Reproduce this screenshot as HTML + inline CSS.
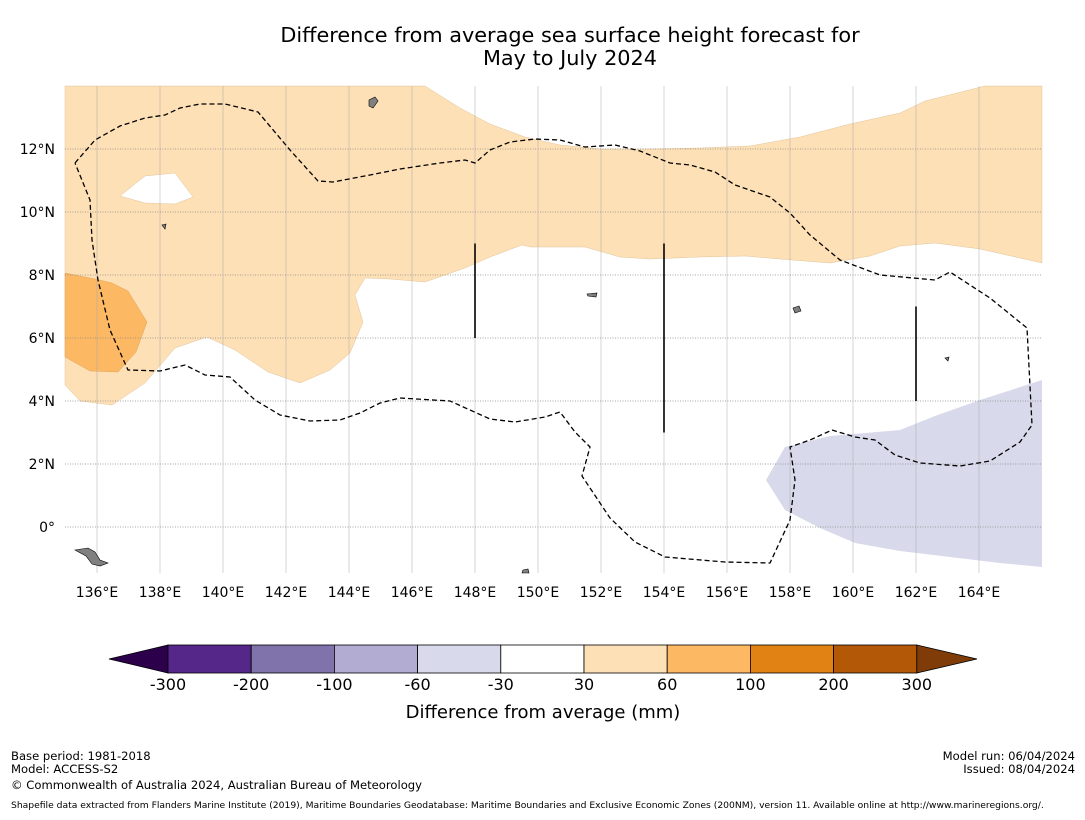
<!DOCTYPE html>
<html><head><meta charset="utf-8"><style>
body{margin:0;background:#fff;width:1085px;height:816px;overflow:hidden;font-family:"DejaVu Sans","Liberation Sans",sans-serif}
svg text{font-family:"DejaVu Sans","Liberation Sans",sans-serif}
</style></head><body>
<svg id="chart" width="1085" height="816" xmlns="http://www.w3.org/2000/svg">
<text x="570" y="42" font-size="20.8" text-anchor="middle">Difference from average sea surface height forecast for</text>
<text x="570" y="65" font-size="20.8" text-anchor="middle">May to July 2024</text>
<g id="map"></g>
<g id="cbar"></g>
<text x="543" y="718" font-size="18" text-anchor="middle">Difference from average (mm)</text>
<text x="11" y="760" font-size="11.6">Base period: 1981-2018</text>
<text x="11" y="773" font-size="11.6">Model: ACCESS-S2</text>
<text x="11" y="789" font-size="11.6">© Commonwealth of Australia 2024, Australian Bureau of Meteorology</text>
<text x="1075" y="760" font-size="11.6" text-anchor="end">Model run: 06/04/2024</text>
<text x="1075" y="773" font-size="11.6" text-anchor="end">Issued: 08/04/2024</text>
<text x="11" y="808" font-size="9.2">Shapefile data extracted from Flanders Marine Institute (2019), Maritime Boundaries Geodatabase: Maritime Boundaries and Exclusive Economic Zones (200NM), version 11. Available online at http://www.marineregions.org/.</text>
</svg>
<script>
const lonTicks=[136,138,140,142,144,146,148,150,152,154,156,158,160,162,164];
const latTicks=[0,2,4,6,8,10,12];
const cbarLabels=["-300","-200","-100","-60","-30","30","60","100","200","300"];
const cbarColors=["#542788","#8073ac","#b2abd2","#d8daeb","#ffffff","#fee0b6","#fdb863","#e08214","#b35806"];
const lightOrange=[[65,86],[425,86],[460,108],[490,124],[525,137],[560,145],[600,149],[650,149],[700,148],[750,146],[800,137],[850,124],[900,113],[925,101],[985,86],[1042,86],[1042,263],[980,249],[935,243],[900,246],[870,256],[830,263],[780,259],[745,256],[700,257],[650,259],[620,257],[585,247],[530,247],[522,245],[490,257],[465,268],[425,282],[390,279],[365,278],[355,295],[363,322],[350,353],[330,370],[300,383],[268,372],[235,350],[207,337],[175,348],[145,383],[112,405],[80,401],[65,385]];
const hole=[[120,196],[145,176],[175,173],[193,197],[175,204],[145,203]];
const orange=[[65,273],[95,279],[112,283],[128,291],[147,322],[136,352],[118,372],[90,371],[65,357]];
const lavender=[[766,480],[785,447],[830,436],[900,430],[935,416],[980,400],[1042,380],[1042,567],[1000,563],[950,557],[900,551],[855,543],[820,528],[785,510]];
const eez=[[75,163],[95,140],[120,126],[145,118],[165,115],[180,108],[200,104],[225,104],[258,112],[290,150],[318,181],[333,182],[370,175],[400,169],[440,163],[465,160],[475,163],[490,150],[510,142],[535,139],[560,140],[585,147],[615,145],[640,151],[670,163],[690,165],[715,172],[735,185],[770,197],[790,213],[810,235],[840,260],[880,275],[935,280],[950,272],[990,298],[1027,328],[1032,425],[1020,442],[990,461],[960,466],[920,463],[895,455],[875,440],[855,437],[832,430],[810,440],[790,447],[795,480],[790,520],[770,563],[725,562],[665,557],[635,542],[610,518],[582,476],[590,447],[575,432],[560,412],[545,417],[515,422],[490,419],[470,410],[450,401],[400,398],[380,403],[360,413],[340,420],[310,421],[280,415],[255,400],[230,377],[205,375],[185,365],[160,371],[128,370],[110,330],[98,280],[92,240],[90,200],[75,163]];
const NS="http://www.w3.org/2000/svg";
const X0=65,X1=1042,Y0=86,Y1=573;
const lonX=l=>97+(l-136)*31.5, latY=l=>527-l*31.5;
function mk(p,tag,at){const e=document.createElementNS(NS,tag);for(const k in at)e.setAttribute(k,at[k]);p.appendChild(e);return e;}
const map=document.getElementById('map');
const pts=a=>a.map(p=>p.join(',')).join(' ');
let e;
e=mk(map,'polygon',{points:pts(lightOrange),fill:'#fee0b6',stroke:'#d9b98a','stroke-width':0.4});

e=mk(map,'polygon',{points:pts(hole),fill:'#fff',stroke:'#d9b98a','stroke-width':0.4});

e=mk(map,'polygon',{points:pts(orange),fill:'#fdb863',stroke:'#d99a50','stroke-width':0.4});

e=mk(map,'polygon',{points:pts(lavender),fill:'#d8daeb'});

lonTicks.forEach(l=>{const x=lonX(l);
 e=mk(map,'line',{x1:x,x2:x,y1:Y0,y2:Y1,stroke:'#aaa','stroke-width':0.5});
 
 e=mk(map,'text',{x:x,y:597,'font-size':14,'text-anchor':'middle'});e.textContent=l+'°E';
 });
latTicks.forEach(l=>{const y=latY(l);
 e=mk(map,'line',{x1:X0,x2:X1,y1:y,y2:y,stroke:'#888','stroke-width':0.7,'stroke-dasharray':'1,1.5'});
 
 e=mk(map,'text',{x:55,y:y+5,'font-size':14,'text-anchor':'end'});e.textContent=l===0?'0°':l+'°N';
 });
e=mk(map,'polyline',{points:pts(eez),fill:'none',stroke:'#000','stroke-width':1.3,'stroke-dasharray':'5,3'});

[[148,9,6],[154,9,3],[162,7,4]].forEach(v=>{
 e=mk(map,'line',{x1:lonX(v[0]),x2:lonX(v[0]),y1:latY(v[1]),y2:latY(v[2]),stroke:'#000','stroke-width':1.6});
 });
const islands=[[[75,550],[88,548],[95,552],[100,560],[108,563],[100,566],[92,564],[86,556]],[[369,100],[375,97],[378,101],[373,108],[369,106]],[[793,308],[799,306],[801,311],[795,313]],[[162,225],[166,224],[165,229]],[[587,294],[597,293],[596,297],[588,296]],[[523,570],[528,569],[529,573],[522,573]],[[945,358],[949,357],[948,361]]];
islands.forEach(p=>{e=mk(map,'polygon',{points:pts(p),fill:'#808080',stroke:'#000','stroke-width':0.6});
 });
const cb=document.getElementById('cbar');
const bx0=168,bw=83.2,by=645,bh=28;
e=mk(cb,'polygon',{points:`109,659 ${bx0},${by} ${bx0},${by+bh}`,fill:'#2d004b',stroke:'#000','stroke-width':0.8});

cbarColors.forEach((c,i)=>{e=mk(cb,'rect',{x:bx0+i*bw,y:by,width:bw,height:bh,fill:c,stroke:'#000','stroke-width':0.8});
 });
const bx1=bx0+cbarColors.length*bw;
e=mk(cb,'polygon',{points:`${bx1},${by} 977,659 ${bx1},${by+bh}`,fill:'#7f3b08',stroke:'#000','stroke-width':0.8});

cbarLabels.forEach((t,i)=>{e=mk(cb,'text',{x:bx0+i*bw,y:690,'font-size':16,'text-anchor':'middle'});e.textContent=t;
 });
</script>
</body></html>
